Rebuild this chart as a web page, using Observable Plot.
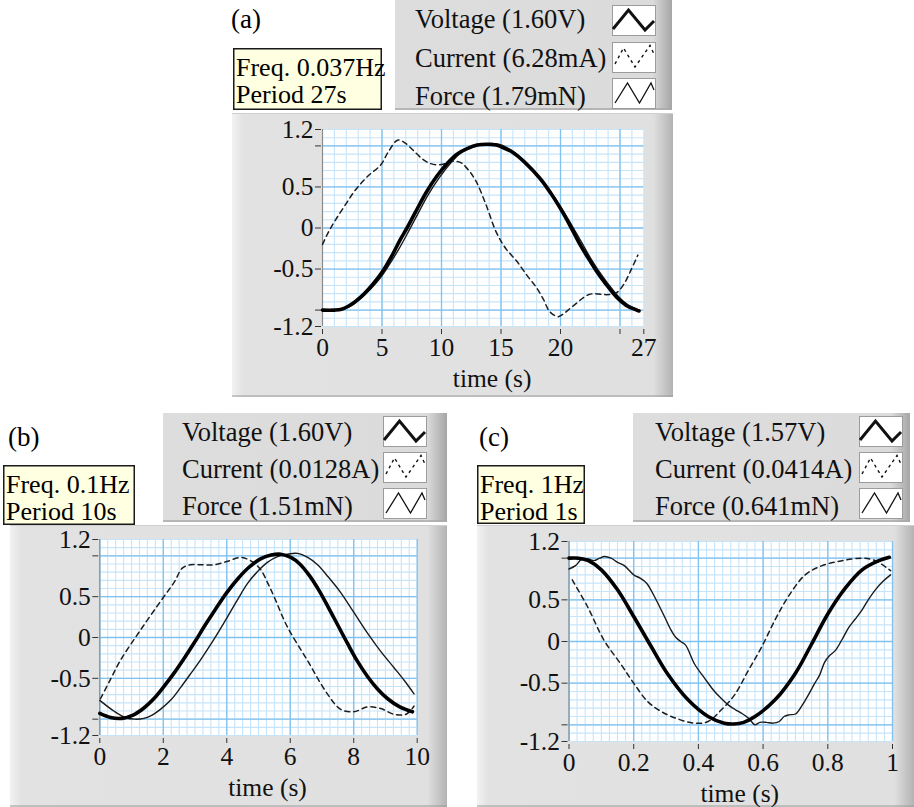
<!DOCTYPE html>
<html><head><meta charset="utf-8">
<script src="https://cdn.jsdelivr.net/npm/d3@7"></script>
<script src="https://cdn.jsdelivr.net/npm/@observablehq/plot@0.6"></script>
<style>
body{margin:0;background:#fff;}
#root{position:relative;width:914px;height:807px;overflow:hidden;font-family:"Liberation Serif","Times New Roman",serif;}
#root svg{position:absolute;overflow:visible;}
</style></head><body><div id="root"></div>
<script>
// ---------- DATA ----------
const panelNames = ["(a)", "(b)", "(c)"];
const labelsA = ["Voltage (1.60V)", "Current (6.28mA)", "Force (1.79mN)"];
const labelsB = ["Voltage (1.60V)", "Current (0.0128A)", "Force (1.51mN)"];
const labelsC = ["Voltage (1.57V)", "Current (0.0414A)", "Force (0.641mN)"];
const freqA = ["Freq. 0.037Hz", "Period 27s"];
const freqB = ["Freq. 0.1Hz", "Period 10s"];
const freqC = ["Freq. 1Hz", "Period 1s"];
const xAxisTitle = "time (s)";
const yTicks = [-1.2, -1, -0.5, 0, 0.5, 1, 1.2];
const yTickLabels = ["-1.2", "", "-0.5", "0", "0.5", "", "1.2"];
const xTicksA = [0, 5, 10, 15, 20, 25, 27];
const xTickLabelsA = ["0", "5", "10", "15", "20", "", "27"];
const xTicksB = [0, 2, 4, 6, 8, 10];
const xTickLabelsB = ["0", "2", "4", "6", "8", "10"];
const xTicksC = [0, 0.2, 0.4, 0.6, 0.8, 1];
const xTickLabelsC = ["0", "0.2", "0.4", "0.6", "0.8", "1"];

// (a) 0.037 Hz  [time s, normalised value]
const voltageA = [[0,-1.0],[1.0,-1.0],[1.6,-0.99],[2.2,-0.95],[2.8,-0.89],[3.5,-0.8],[4.2,-0.69],[5.0,-0.54],[5.9,-0.32],[6.5,-0.15],[7.1,0.0],[7.8,0.19],[8.7,0.43],[9.6,0.63],[10.5,0.79],[11.3,0.9],[12.2,0.97],[13.0,1.01],[13.8,1.02],[14.6,1.01],[15.3,0.97],[16.0,0.92],[17.0,0.8],[18.3,0.6],[19.2,0.42],[19.9,0.26],[20.8,0.03],[21.6,-0.19],[22.3,-0.36],[23.0,-0.52],[23.8,-0.68],[24.7,-0.84],[25.5,-0.94],[26.4,-1.0],[26.6,-1.01]];
const forceA = [[0,-1.0],[1.2,-1.0],[1.9,-0.98],[2.6,-0.93],[3.3,-0.85],[4.0,-0.75],[4.8,-0.62],[5.6,-0.45],[6.4,-0.26],[7.2,-0.05],[8.0,0.17],[8.9,0.41],[9.8,0.61],[10.7,0.78],[11.5,0.9],[12.3,0.97],[13.2,1.01],[14.0,1.03],[14.8,1.02],[15.5,0.98],[16.3,0.9],[17.3,0.77],[18.5,0.57],[19.4,0.39],[20.1,0.24],[21.0,0.02],[21.8,-0.18],[22.5,-0.36],[23.2,-0.52],[24.0,-0.68],[24.9,-0.84],[25.7,-0.94],[26.6,-1.0]];
const currentA = [[0,-0.2],[0.5,-0.05],[1.1,0.1],[2.0,0.3],[2.8,0.47],[3.8,0.63],[4.9,0.77],[5.5,0.92],[6.3,1.07],[6.8,1.05],[7.6,0.95],[8.4,0.84],[9.0,0.79],[9.6,0.77],[10.2,0.78],[10.8,0.81],[11.3,0.81],[11.7,0.79],[12.3,0.7],[12.9,0.57],[13.7,0.3],[14.6,-0.05],[15.4,-0.25],[16.3,-0.4],[17.2,-0.58],[18.0,-0.73],[18.6,-0.88],[19.1,-1.02],[19.8,-1.08],[20.3,-1.04],[20.8,-0.98],[21.4,-0.91],[21.9,-0.85],[22.4,-0.81],[22.9,-0.8],[23.5,-0.81],[24.1,-0.81],[24.7,-0.79],[25.3,-0.69],[25.9,-0.52],[26.5,-0.33]];

// (b) 0.1 Hz
const voltageB = [[0,-0.93],[0.34,-0.98],[0.7,-0.99],[1.05,-0.95],[1.4,-0.86],[1.7,-0.75],[2.0,-0.61],[2.35,-0.43],[2.65,-0.26],[3.0,-0.05],[3.3,0.14],[3.65,0.35],[4.0,0.55],[4.35,0.72],[4.7,0.86],[5.05,0.96],[5.4,1.01],[5.7,1.02],[6.02,0.98],[6.3,0.9],[6.6,0.76],[6.9,0.58],[7.2,0.37],[7.5,0.15],[7.8,-0.07],[8.1,-0.28],[8.44,-0.48],[8.75,-0.63],[9.07,-0.75],[9.45,-0.85],[9.85,-0.91]];
const forceB = [[0,-0.77],[0.44,-0.9],[0.8,-0.98],[1.1,-1.0],[1.39,-0.99],[1.65,-0.95],[1.91,-0.88],[2.25,-0.76],[2.55,-0.61],[2.85,-0.45],[3.18,-0.27],[3.6,-0.02],[4.02,0.25],[4.35,0.47],[4.65,0.66],[4.95,0.8],[5.28,0.92],[5.6,0.99],[5.91,1.02],[6.23,1.03],[6.55,0.98],[6.86,0.89],[7.2,0.74],[7.59,0.55],[8.0,0.31],[8.44,0.05],[8.85,-0.17],[9.27,-0.37],[9.6,-0.53],[9.9,-0.69]];
const currentB = [[0.02,-0.75],[0.3,-0.54],[0.65,-0.28],[1.28,0.09],[2.0,0.49],[2.35,0.68],[2.6,0.85],[2.85,0.89],[3.2,0.89],[3.6,0.89],[4.0,0.93],[4.44,0.98],[4.8,0.93],[5.07,0.83],[5.3,0.66],[5.49,0.5],[5.91,0.13],[6.54,-0.28],[7.17,-0.69],[7.59,-0.88],[8.0,-0.91],[8.44,-0.85],[8.85,-0.87],[9.27,-0.94],[9.65,-0.94],[9.9,-0.84]];

// (c) 1 Hz
const voltageC = [[0,1.0],[0.03,1.0],[0.06,0.97],[0.1,0.86],[0.15,0.62],[0.2,0.3],[0.254,-0.06],[0.305,-0.39],[0.368,-0.7],[0.43,-0.9],[0.48,-0.98],[0.51,-0.99],[0.54,-0.97],[0.575,-0.9],[0.637,-0.7],[0.7,-0.38],[0.75,-0.03],[0.8,0.33],[0.854,0.64],[0.906,0.86],[0.958,0.97],[0.99,1.01]];
const forceC = [[0,0.87],[0.02,0.91],[0.04,0.99],[0.06,0.99],[0.077,0.97],[0.095,1.0],[0.109,1.02],[0.13,1.0],[0.15,0.95],[0.171,0.91],[0.2,0.8],[0.22,0.76],[0.24,0.7],[0.264,0.54],[0.295,0.3],[0.315,0.14],[0.33,0.05],[0.345,0.0],[0.36,-0.04],[0.388,-0.27],[0.419,-0.44],[0.45,-0.6],[0.47,-0.68],[0.492,-0.76],[0.515,-0.82],[0.533,-0.86],[0.555,-0.92],[0.575,-1.0],[0.59,-0.97],[0.61,-0.97],[0.63,-0.98],[0.65,-0.96],[0.665,-0.9],[0.68,-0.88],[0.7,-0.87],[0.72,-0.77],[0.74,-0.64],[0.76,-0.5],[0.775,-0.4],[0.79,-0.25],[0.805,-0.17],[0.823,-0.11],[0.845,0.03],[0.865,0.17],[0.885,0.27],[0.906,0.38],[0.925,0.5],[0.947,0.62],[0.97,0.72],[0.994,0.8]];
const currentC = [[0.01,0.74],[0.057,0.42],[0.109,0.01],[0.16,-0.27],[0.2,-0.5],[0.243,-0.72],[0.285,-0.84],[0.337,-0.93],[0.388,-0.98],[0.43,-0.96],[0.471,-0.82],[0.512,-0.64],[0.554,-0.35],[0.595,-0.07],[0.637,0.26],[0.678,0.54],[0.73,0.8],[0.782,0.91],[0.844,0.97],[0.906,1.0],[0.947,0.97],[0.994,0.85]];

// ---------- LAYOUT ----------
const layouts = [
  {name: panelNames[0], labels: labelsA, freq: freqA, nameXY: [231, 28],
   freqBox: [233, 48, 382, 110], legend: [395, -3, 672, 110], legTextX: 415, legY: [28, 66.5, 105],
   swX: 612, swY: [5, 42, 78], panel: [232, 113, 673, 397], plotX: [322, 643.3], plotY: [129, 326],
   xDomain: [0, 27], xTicks: xTicksA, xTickLabels: xTickLabelsA, minorStep: 1, majorStep: 5,
   series: [currentA, forceA, voltageA]},
  {name: panelNames[1], labels: labelsB, freq: freqB, nameXY: [8, 446],
   freqBox: [3, 465, 135, 525], legend: [163, 413, 447, 522], legTextX: 182, legY: [441, 478, 515],
   swX: 383, swY: [416, 452, 488], panel: [10, 525, 447, 807], plotX: [99.3, 416.7], plotY: [539, 735],
   xDomain: [0, 10], xTicks: xTicksB, xTickLabels: xTickLabelsB, minorStep: 0.25, majorStep: 2,
   series: [currentB, forceB, voltageB]},
  {name: panelNames[2], labels: labelsC, freq: freqC, nameXY: [479, 446],
   freqBox: [477, 465, 585, 524], legend: [633, 413, 910, 522], legTextX: 655, legY: [441, 478, 515],
   swX: 859, swY: [416, 452, 488], panel: [477, 525, 914, 807], plotX: [568.5, 892], plotY: [541, 741],
   xDomain: [0, 1], xTicks: xTicksC, xTickLabels: xTickLabelsC, minorStep: 0.025, majorStep: 0.2,
   series: [currentC, forceC, voltageC]}
];

const root = d3.select("#root");
const bg = root.append("svg").attr("width", 914).attr("height", 807).style("left", "0px").style("top", "0px");
const defs = bg.append("defs");
function grad(id, stops) {
  const g = defs.append("linearGradient").attr("id", id).attr("x1", 0).attr("x2", 1).attr("y1", 0).attr("y2", 0);
  stops.forEach(([o, c]) => g.append("stop").attr("offset", o).attr("stop-color", c));
}
grad("pg", [[0, "#f2f2f2"], [0.025, "#e2e2e2"], [0.955, "#e0e0e0"], [1, "#b3b3b3"]]);
grad("lg", [[0, "#dddddd"], [0.93, "#dbdbdb"], [1, "#a6a6a6"]]);

const FONT = '"Liberation Serif","Times New Roman",serif';

layouts.forEach(L => {
  // plot panel
  const [p0, p1, p2, p3] = L.panel;
  bg.append("rect").attr("x", p0).attr("y", p1).attr("width", p2 - p0).attr("height", p3 - p1).attr("fill", "url(#pg)");
  bg.append("line").attr("x1", p0).attr("x2", p2).attr("y1", p1 + 0.5).attr("y2", p1 + 0.5).attr("stroke", "#cfcfcf");
  bg.append("line").attr("x1", p0).attr("x2", p2).attr("y1", p3 - 1).attr("y2", p3 - 1).attr("stroke", "#9a9a9a");
  // legend panel
  const [l0, l1, l2, l3] = L.legend;
  bg.append("rect").attr("x", l0).attr("y", l1).attr("width", l2 - l0).attr("height", l3 - l1).attr("fill", "url(#lg)");
  bg.append("line").attr("x1", l0).attr("x2", l2).attr("y1", l3 - 1).attr("y2", l3 - 1).attr("stroke", "#a8a8a8").attr("stroke-width", 1.5);
  // freq box
  const [f0, f1, f2, f3] = L.freqBox;
  bg.append("rect").attr("x", f0 + 0.75).attr("y", f1 + 0.75).attr("width", f2 - f0 - 1.5).attr("height", f3 - f1 - 1.5)
    .attr("fill", "#ffffe1").attr("stroke", "#1a1a1a").attr("stroke-width", 1.5);
  L.freq.forEach((t, i) => bg.append("text").attr("x", f0 + 3).attr("y", f1 + 28 + i * 27)
    .attr("font-family", FONT).attr("font-size", 26).text(t));
  // panel name
  bg.append("text").attr("x", L.nameXY[0]).attr("y", L.nameXY[1]).attr("font-family", FONT).attr("font-size", 27).text(L.name);
  // legend rows
  L.labels.forEach((t, i) => bg.append("text").attr("x", L.legTextX).attr("y", L.legY[i])
    .attr("font-family", FONT).attr("font-size", 26.5).attr("fill", "#111").text(t));
  // swatches
  const glyphs = [
    {pts: [[1, 24], [16.5, 5], [33, 25], [42, 16]], w: 3, dash: null},
    {pts: [[3, 22], [11.5, 6], [23, 25], [38, 3.5], [42, 12]], w: 1.4, dash: "3,3.5"},
    {pts: [[3, 25], [15.5, 5], [27.5, 25], [39, 5], [42, 12]], w: 1.3, dash: null}
  ];
  glyphs.forEach((g, i) => {
    const x0 = L.swX, y0 = L.swY[i];
    bg.append("rect").attr("x", x0 + 0.5).attr("y", y0 + 0.5).attr("width", 43).attr("height", 30)
      .attr("fill", "#fff").attr("stroke", "#9c9c9c");
    bg.append("polyline").attr("points", g.pts.map(p => [x0 + p[0], y0 + p[1]].join(",")).join(" "))
      .attr("fill", "none").attr("stroke", "#111").attr("stroke-width", g.w)
      .attr("stroke-dasharray", g.dash).attr("stroke-linejoin", "miter");
  });

  // ---------- PLOT ----------
  const W = p2 - p0, H = p3 - p1;
  const [xd0, xd1] = L.xDomain;
  const minorX = d3.range(xd0, xd1 + L.minorStep / 2, L.minorStep);
  const majorX = d3.range(xd0, xd1 + L.majorStep / 2, L.majorStep);
  const minorY = d3.range(-12, 13, 1).map(k => k / 10);
  const majorY = [-1, -0.5, 0, 0.5, 1];
  const [cur, frc, vol] = L.series;
  const xt = L.xTicks, xtl = L.xTickLabels;
  const chart = Plot.plot({
    width: W, height: H,
    marginLeft: L.plotX[0] - p0, marginRight: p2 - L.plotX[1],
    marginTop: L.plotY[0] - p1, marginBottom: p3 - L.plotY[1],
    x: {domain: L.xDomain}, y: {domain: [-1.2, 1.2]},
    style: {background: "transparent", fontFamily: FONT, fontSize: "25.5px", color: "#111", overflow: "visible"},
    marks: [
      Plot.frame({fill: "#ffffff", stroke: null}),
      Plot.ruleX(minorX, {stroke: "#c6e4fa", strokeWidth: 1.1}),
      Plot.ruleY(minorY, {stroke: "#c6e4fa", strokeWidth: 1.1}),
      Plot.ruleX(majorX, {stroke: "#80c2ef", strokeWidth: 1.3}),
      Plot.ruleY(majorY, {stroke: "#80c2ef", strokeWidth: 1.3}),
      Plot.ruleX([xd0], {stroke: "#8a8a8a", strokeWidth: 1}),
      Plot.axisY({ticks: yTicks, tickFormat: d => yTickLabels[yTicks.indexOf(d)], tickSize: 6, tickPadding: 2, dx: -1, label: null, stroke: "#333"}),
      Plot.axisX({ticks: xt, tickFormat: d => xtl[xt.indexOf(d)], tickSize: 5, tickPadding: 3, dy: 3, label: null, stroke: "#333"}),
      Plot.text([xAxisTitle], {text: d => d, frameAnchor: "bottom", dx: 9, dy: 52, lineAnchor: "middle"}),
      Plot.line(cur, {x: d => d[0], y: d => d[1], stroke: "#1e1e1e", strokeWidth: 1.5, strokeDasharray: "5,4", curve: "catmull-rom"}),
      Plot.line(frc, {x: d => d[0], y: d => d[1], stroke: "#1a1a1a", strokeWidth: 1.4, curve: "catmull-rom"}),
      Plot.line(vol, {x: d => d[0], y: d => d[1], stroke: "#000", strokeWidth: 3.6, curve: "catmull-rom"})
    ]
  });
  d3.select(chart).style("left", p0 + "px").style("top", p1 + "px");
  root.node().appendChild(chart);
});
</script></body></html>
